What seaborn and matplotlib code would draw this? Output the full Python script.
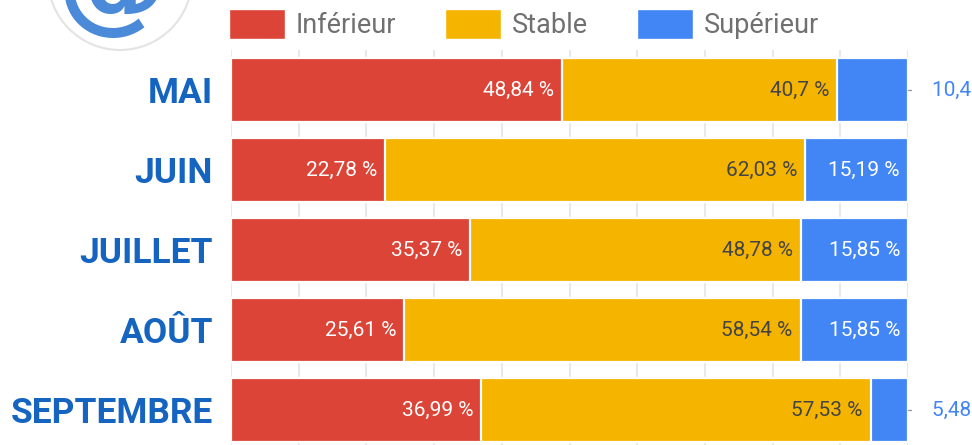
import numpy as np
import pandas as pd
import matplotlib.pyplot as plt
from matplotlib.patches import Patch, Circle
import seaborn as sns

# Data (percent of answers per month)
mois = ["MAI", "JUIN", "JUILLET", "AOÛT", "SEPTEMBRE"]
inferieur = [48.84, 22.78, 35.37, 25.61, 36.99]
stable = [40.7, 62.03, 48.78, 58.54, 57.53]
superieur = [10.46, 15.19, 15.85, 15.85, 5.48]
series = ["Inférieur", "Stable", "Supérieur"]

colors = {"Inférieur": "#db4437", "Stable": "#f4b400", "Supérieur": "#4285f4"}
text_colors = {"Inférieur": "white", "Stable": "#444444", "Supérieur": "white"}

sns.set_style("white")
plt.rcParams["font.family"] = ["Roboto", "DejaVu Sans"]

df = pd.DataFrame({"mois": mois, "Inférieur": inferieur,
                   "Stable": stable, "Supérieur": superieur})
df["c1"] = df["Inférieur"]
df["c2"] = df["c1"] + df["Stable"]
df["c3"] = df["c2"] + df["Supérieur"]

fig = plt.figure(figsize=(9.72, 4.45), dpi=100)

# logo in the top left corner (only the bottom part is visible)
ov = fig.add_axes([0, 0, 1, 1])
ov.set_xlim(0, 972)
ov.set_ylim(445, 0)
ov.axis("off")
ov.add_patch(Circle((120, -22), 72, facecolor="white", edgecolor="#e3e3e3", lw=1.5))
ov.text(112, -12, "@", fontsize=80, fontweight="bold", color="#4a8ad8",
        ha="center", va="center", family="DejaVu Sans")

ax = fig.add_axes([231 / 972, -5 / 445, 677 / 972, 400 / 445])

# stacked bars: draw cumulative totals from the back to the front
for col, name in [("c3", "Supérieur"), ("c2", "Stable"), ("c1", "Inférieur")]:
    sns.barplot(data=df, y="mois", x=col, order=mois, color=colors[name],
                orient="h", width=0.8, edgecolor="white", linewidth=1.6,
                saturation=1, ax=ax)


def fmt(v):
    s = f"{v:.2f}".rstrip("0").rstrip(".")
    return s.replace(".", ",") + " %"


for i, row in df.iterrows():
    ends = [row["c1"], row["c2"], row["c3"]]
    for name, end in zip(series, ends):
        v = row[name]
        if v >= 12:
            ax.text(end - 1.2, i, fmt(v), ha="right", va="center",
                    color=text_colors[name], fontsize=15)
        else:
            ax.plot([100, 100.5], [i, i], color="#999999", lw=1, clip_on=False)
            ax.text(103.5, i, fmt(v), ha="left", va="center",
                    color=colors[name], fontsize=15, clip_on=False)

ax.set_xlim(0, 100)
ax.set_ylim(4.5, -0.5)
ax.set_xticks(np.arange(0, 101, 10))
ax.set_xticklabels([])
ax.xaxis.grid(True, color="#e8e8e8", lw=1.5)
ax.set_axisbelow(True)
ax.set_xlabel("")
ax.set_ylabel("")
ax.tick_params(axis="both", length=0)
ax.tick_params(axis="y", pad=13)
for lab in ax.get_yticklabels():
    lab.set_color("#1565c0")
    lab.set_fontweight("bold")
    lab.set_fontsize(25.5)
sns.despine(ax=ax, left=True, bottom=True)

handles = [Patch(facecolor=colors[s], label=s) for s in series]
fig.legend(handles=handles, loc="upper left", ncol=3, frameon=False,
           bbox_to_anchor=(229 / 972, 1 - 9 / 445), fontsize=19.5,
           labelcolor="#707070", handlelength=2.07, handleheight=1.3,
           handletextpad=0.4, columnspacing=1.8, borderpad=0,
           borderaxespad=0)

fig.savefig("out.png", dpi=100)
